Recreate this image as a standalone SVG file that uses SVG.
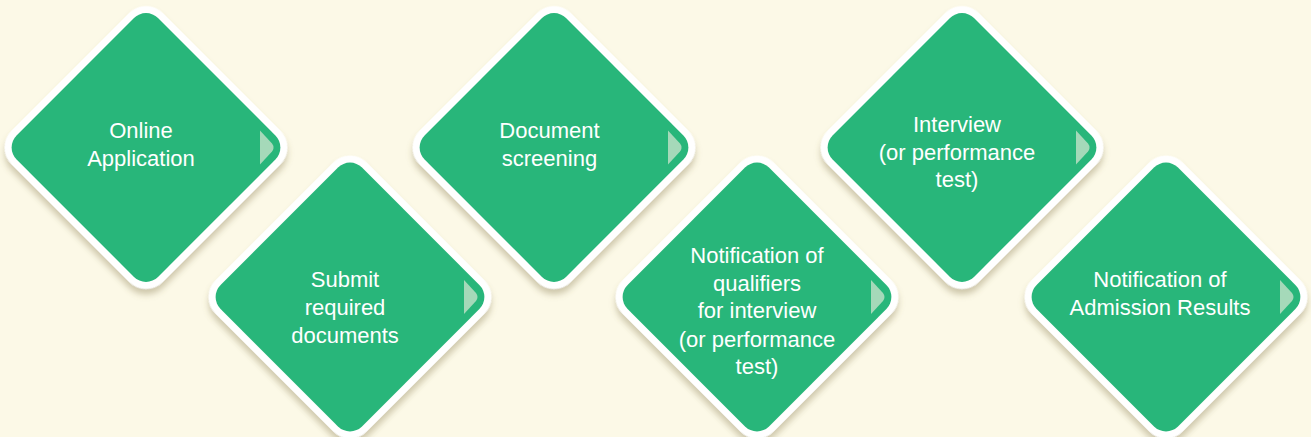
<svg xmlns="http://www.w3.org/2000/svg" width="1311" height="437" viewBox="0 0 1311 437">
  <defs>
    <filter id="sh" x="-20%" y="-20%" width="140%" height="140%">
      <feDropShadow dx="4" dy="4" stdDeviation="3" flood-color="#7a6a3a" flood-opacity="0.35"/>
    </filter>
    <g id="diamond">
      <rect x="-107" y="-107" width="214" height="214" rx="24" ry="24" transform="rotate(45)" fill="#ffffff" filter="url(#sh)"/>
      <rect x="-100" y="-100" width="200" height="200" rx="17" ry="17" transform="rotate(45)" fill="#28b67a"/>
      <path d="M114,-17 L126,-4 Q129,0 126,4 L114,17 Z" fill="#a5d9b9"/>
    </g>
  </defs>
  <style>
    .t { font-family: "Liberation Sans", Arial, sans-serif; font-size: 22px; fill: #ffffff; text-anchor: middle; }
  </style>
  <rect x="0" y="0" width="1311" height="437" fill="#fcf9e7"/>
  <g id="connectors"></g>
  <g id="n1">
    <use href="#diamond" x="146" y="147.5"/>
    <text class="t" x="141" y="138">Online</text>
    <text class="t" x="141" y="166">Application</text>
  </g>
  <g id="n2">
    <use href="#diamond" x="350" y="297"/>
    <text class="t" x="345" y="287">Submit</text>
    <text class="t" x="345" y="315">required</text>
    <text class="t" x="345" y="343">documents</text>
  </g>
  <g id="n3">
    <use href="#diamond" x="554" y="147.5"/>
    <text class="t" x="549.5" y="138">Document</text>
    <text class="t" x="549.5" y="166">screening</text>
  </g>
  <g id="n4">
    <use href="#diamond" x="757" y="297"/>
    <text class="t" x="757" y="263">Notification of</text>
    <text class="t" x="757" y="290.5">qualifiers</text>
    <text class="t" x="757" y="318">for interview</text>
    <text class="t" x="757" y="346.5">(or performance</text>
    <text class="t" x="757" y="374">test)</text>
  </g>
  <g id="n5">
    <use href="#diamond" x="962" y="147.5"/>
    <text class="t" x="957" y="132">Interview</text>
    <text class="t" x="957" y="160">(or performance</text>
    <text class="t" x="957" y="187">test)</text>
  </g>
  <g id="n6">
    <use href="#diamond" x="1166" y="297"/>
    <text class="t" x="1160" y="287">Notification of</text>
    <text class="t" x="1160" y="315">Admission Results</text>
  </g>
</svg>
